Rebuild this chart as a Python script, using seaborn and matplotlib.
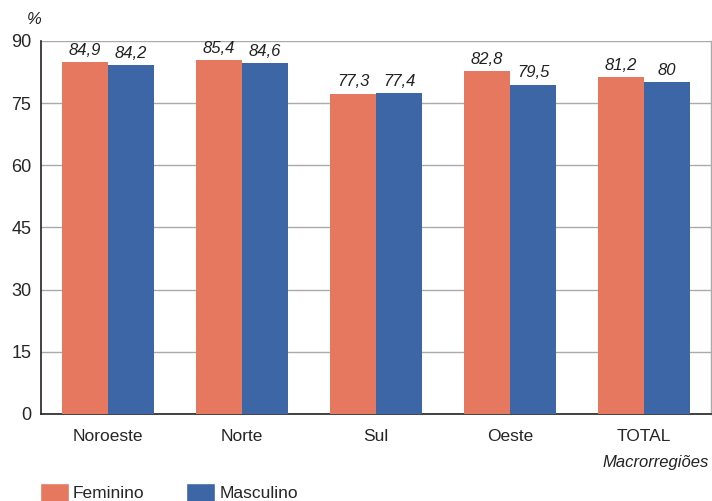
import matplotlib
matplotlib.use("Agg")
import matplotlib.pyplot as plt
import seaborn as sns
import pandas as pd
from matplotlib.patches import Patch

regioes = ["Noroeste", "Norte", "Sul", "Oeste", "TOTAL"]
feminino = [84.9, 85.4, 77.3, 82.8, 81.2]
masculino = [84.2, 84.6, 77.4, 79.5, 80.0]
rotulos_fem = ["84,9", "85,4", "77,3", "82,8", "81,2"]
rotulos_masc = ["84,2", "84,6", "77,4", "79,5", "80"]
yticks = [0, 15, 30, 45, 60, 75, 90]

sns.set_style("white")
plt.rcParams["font.family"] = ["Liberation Sans", "DejaVu Sans"]

cor_fem = "#E77860"
cor_masc = "#3D66A6"

df = pd.DataFrame({
    "Regiao": regioes * 2,
    "Sexo": ["Feminino"] * 5 + ["Masculino"] * 5,
    "Valor": feminino + masculino,
})

fig = plt.figure(figsize=(7.12, 5.01), dpi=100)
ax = fig.add_axes([41 / 712, 87 / 501, 670 / 712, 373 / 501])

sns.barplot(data=df, x="Regiao", y="Valor", hue="Sexo",
            palette=[cor_fem, cor_masc], width=0.686, saturation=1,
            linewidth=0, ax=ax, legend=False, zorder=3)

ax.set_ylim(0, 90)
ax.set_xlim(-0.5, 4.5)
ax.set_yticks(yticks)
ax.set_yticklabels([str(v) for v in yticks], fontsize=13)
ax.yaxis.grid(True, color="#AAAAAA", linewidth=1, zorder=0)
ax.set_axisbelow(True)
ax.set_xlabel("")
ax.set_ylabel("")
ax.tick_params(axis="x", length=0, pad=11, labelsize=12.5)
ax.tick_params(axis="y", length=5, width=1, color="#222222", direction="out", pad=2)

for s in ["left", "bottom"]:
    ax.spines[s].set_color("#222222")
    ax.spines[s].set_linewidth(1.2)
ax.spines["top"].set_visible(False)
ax.spines["right"].set_color("#AAAAAA")
ax.spines["right"].set_linewidth(1)

for cont, labs in zip(ax.containers, [rotulos_fem, rotulos_masc]):
    ax.bar_label(cont, labels=labs, padding=3, fontsize=12, fontstyle="italic",
                 color="#222222")

fig.text(27 / 712, 1 - 20 / 501, "%", fontsize=12, fontstyle="italic",
         ha="left", va="center", color="#222222")
fig.text(709 / 712, 1 - 463 / 501, "Macrorregiões", fontsize=12,
         fontstyle="italic", ha="right", va="center", color="#222222")

handles = [Patch(facecolor=cor_fem, label="Feminino"),
           Patch(facecolor=cor_masc, label="Masculino")]
fig.legend(handles=handles, loc="upper left", bbox_to_anchor=(40 / 712, 1 - 483 / 501),
           ncol=2, frameon=False, fontsize=12.5, handlelength=1.65, handleheight=1.3,
           handletextpad=0.25, columnspacing=2.4, borderpad=0, borderaxespad=0)

fig.savefig("out.png", dpi=100)
